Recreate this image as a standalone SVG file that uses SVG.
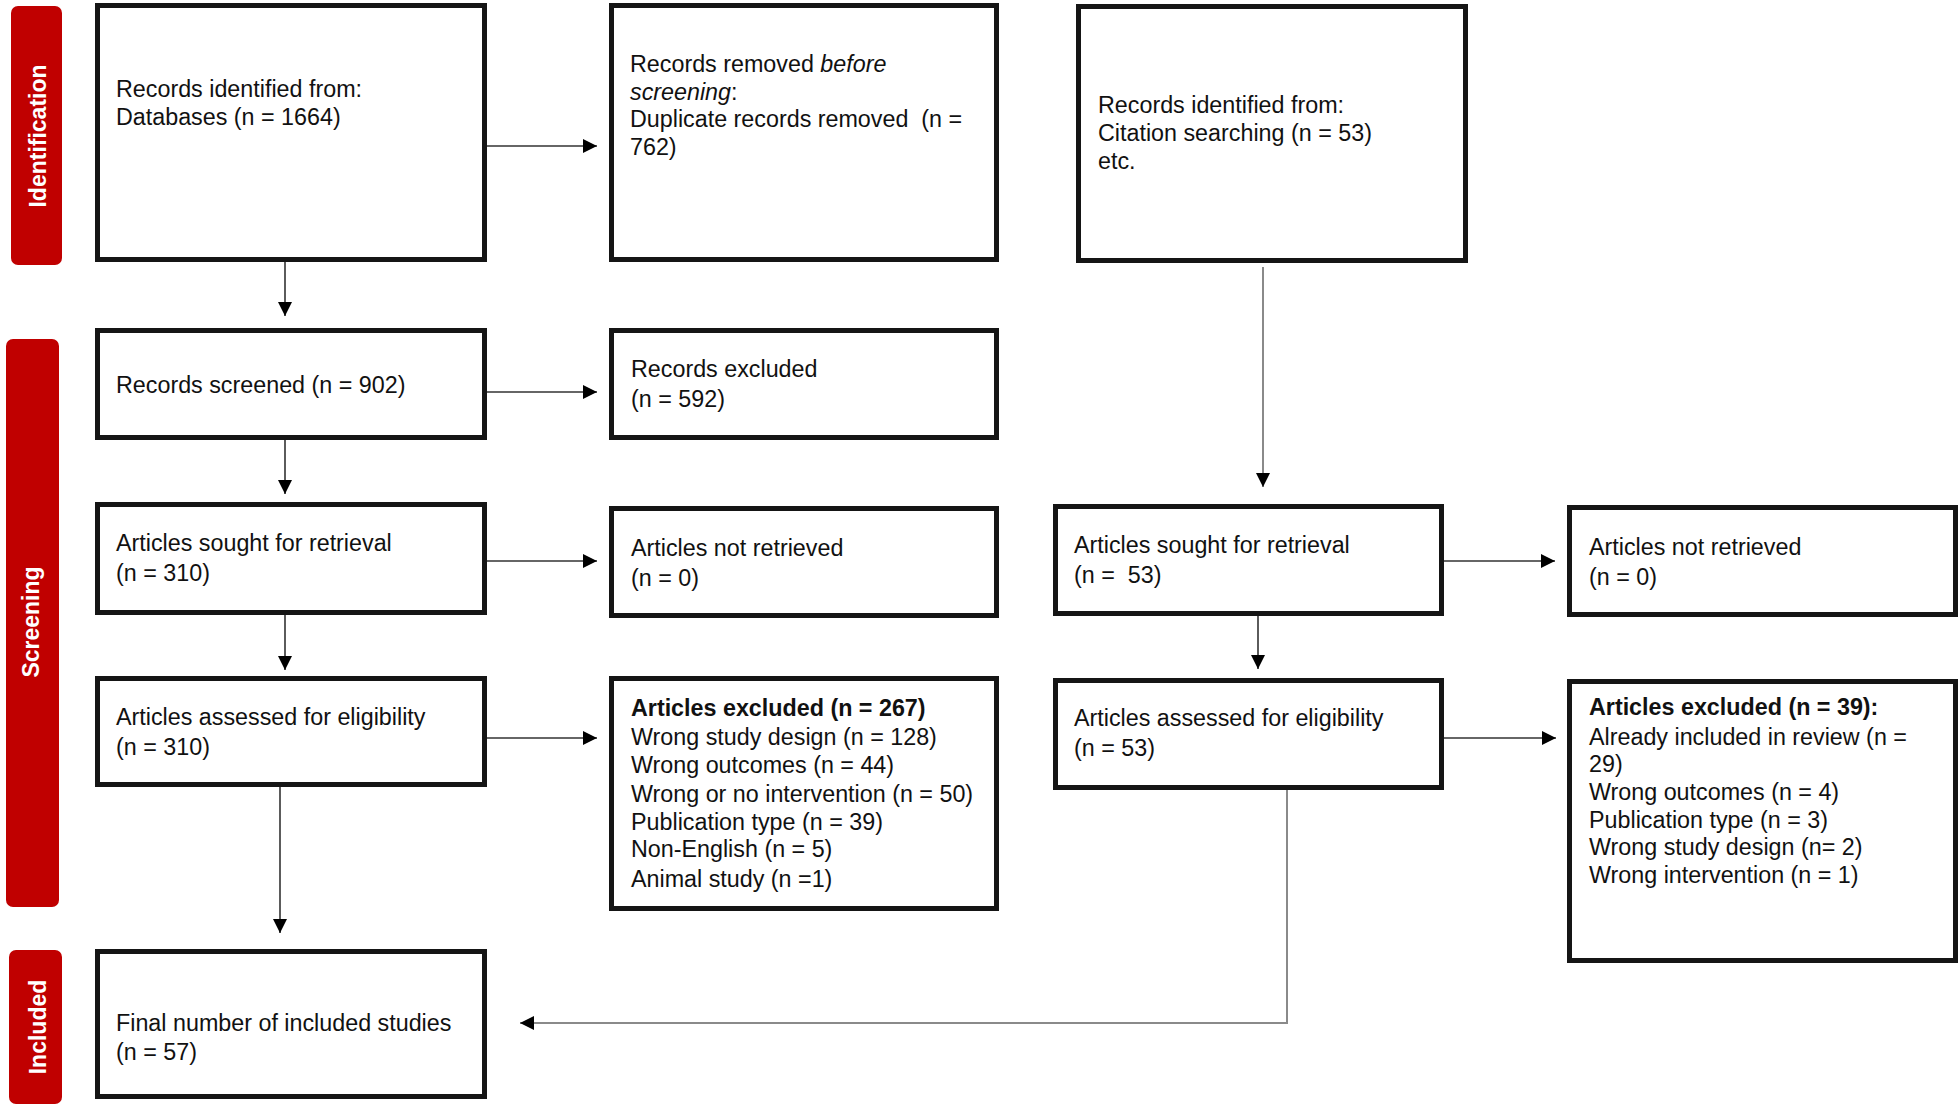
<svg xmlns="http://www.w3.org/2000/svg" width="1959" height="1110" viewBox="0 0 1959 1110">
<defs>
<marker id="ah" markerUnits="userSpaceOnUse" markerWidth="15" markerHeight="15" refX="14" refY="7" orient="auto">
<path d="M0,0 L14,7 L0,14 z" fill="#000"/>
</marker>
<style>
.box{fill:#fff;stroke:#151515;stroke-width:5}
.t{font-family:"Liberation Sans",Arial,sans-serif;font-size:23.3px;fill:#111}
.b{font-weight:bold}
.bar{fill:#c00000}
.bt{font-family:"Liberation Sans",Arial,sans-serif;font-size:23px;font-weight:bold;fill:#fff;text-anchor:middle}
.c{fill:none;stroke:#333;stroke-width:1.6}
.g{fill:none;stroke:#8a8a8a;stroke-width:2}
</style>
</defs>
<rect width="1959" height="1110" fill="#fff"/>

<g id="phase-identification">
<rect class="bar" x="11" y="6" width="51" height="259" rx="7"/>
<text class="bt" transform="translate(46,136) rotate(-90)">Identification</text>
</g>
<g id="phase-screening">
<rect class="bar" x="6" y="339" width="53" height="568" rx="7"/>
<text class="bt" transform="translate(39,622) rotate(-90)">Screening</text>
</g>
<g id="phase-included">
<rect class="bar" x="9" y="950" width="53" height="154" rx="7"/>
<text class="bt" transform="translate(46,1027) rotate(-90)">Included</text>
</g>

<g id="connectors">
<path class="c" d="M487,146 H597" marker-end="url(#ah)"/>
<path class="c" d="M285,262 V316" marker-end="url(#ah)"/>
<path class="c" d="M487,392 H597" marker-end="url(#ah)"/>
<path class="c" d="M285,440 V494" marker-end="url(#ah)"/>
<path class="c" d="M487,561 H597" marker-end="url(#ah)"/>
<path class="c" d="M285,615 V670" marker-end="url(#ah)"/>
<path class="c" d="M487,738 H597" marker-end="url(#ah)"/>
<path class="c" d="M280,783 V933" marker-end="url(#ah)"/>
<path class="g" d="M1263,267 V487" marker-end="url(#ah)"/>
<path class="c" d="M1444,561 H1555" marker-end="url(#ah)"/>
<path class="c" d="M1258,616 V669" marker-end="url(#ah)"/>
<path class="c" d="M1444,738 H1556" marker-end="url(#ah)"/>
<path class="g" d="M1287,790 V1023 H520" marker-end="url(#ah)"/>
</g>

<g id="n-db">
<rect class="box" x="97.5" y="5.5" width="387" height="254"/>
<text class="t" x="116" y="97">Records identified from:</text>
<text class="t" x="116" y="125">Databases (n = 1664)</text>
</g>
<g id="n-removed">
<rect class="box" x="611.5" y="5.5" width="385" height="254"/>
<text class="t" x="630" y="72">Records removed <tspan font-style="italic">before</tspan></text>
<text class="t" x="630" y="100"><tspan font-style="italic">screening</tspan>:</text>
<text class="t" x="630" y="127" xml:space="preserve">Duplicate records removed  (n =</text>
<text class="t" x="630" y="155">762)</text>
</g>
<g id="n-citation">
<rect class="box" x="1078.5" y="6.5" width="387" height="254"/>
<text class="t" x="1098" y="113">Records identified from:</text>
<text class="t" x="1098" y="141">Citation searching (n = 53)</text>
<text class="t" x="1098" y="169">etc.</text>
</g>
<g id="n-screened">
<rect class="box" x="97.5" y="330.5" width="387" height="107"/>
<text class="t" x="116" y="393">Records screened (n = 902)</text>
</g>
<g id="n-excluded">
<rect class="box" x="611.5" y="330.5" width="385" height="107"/>
<text class="t" x="631" y="377">Records excluded</text>
<text class="t" x="631" y="407">(n = 592)</text>
</g>
<g id="n-sought-db">
<rect class="box" x="97.5" y="504.5" width="387" height="108"/>
<text class="t" x="116" y="551">Articles sought for retrieval</text>
<text class="t" x="116" y="581">(n = 310)</text>
</g>
<g id="n-notretrieved-db">
<rect class="box" x="611.5" y="508.5" width="385" height="107"/>
<text class="t" x="631" y="556">Articles not retrieved</text>
<text class="t" x="631" y="586">(n = 0)</text>
</g>
<g id="n-sought-cit">
<rect class="box" x="1055.5" y="506.5" width="386" height="107"/>
<text class="t" x="1074" y="553">Articles sought for retrieval</text>
<text class="t" x="1074" y="583" xml:space="preserve">(n =  53)</text>
</g>
<g id="n-notretrieved-cit">
<rect class="box" x="1569.5" y="507.5" width="386" height="107"/>
<text class="t" x="1589" y="555">Articles not retrieved</text>
<text class="t" x="1589" y="585">(n = 0)</text>
</g>
<g id="n-assessed-db">
<rect class="box" x="97.5" y="678.5" width="387" height="106"/>
<text class="t" x="116" y="725">Articles assessed for eligibility</text>
<text class="t" x="116" y="755">(n = 310)</text>
</g>
<g id="n-artexcl-db">
<rect class="box" x="611.5" y="678.5" width="385" height="230"/>
<text class="t b" x="631" y="716">Articles excluded (n = 267)</text>
<text class="t" x="631" y="745">Wrong study design (n = 128)</text>
<text class="t" x="631" y="773">Wrong outcomes (n = 44)</text>
<text class="t" x="631" y="802">Wrong or no intervention (n = 50)</text>
<text class="t" x="631" y="830">Publication type (n = 39)</text>
<text class="t" x="631" y="857">Non-English (n = 5)</text>
<text class="t" x="631" y="887">Animal study (n =1)</text>
</g>
<g id="n-assessed-cit">
<rect class="box" x="1055.5" y="680.5" width="386" height="107"/>
<text class="t" x="1074" y="726">Articles assessed for eligibility</text>
<text class="t" x="1074" y="756">(n = 53)</text>
</g>
<g id="n-artexcl-cit">
<rect class="box" x="1569.5" y="681.5" width="386" height="279"/>
<text class="t b" x="1589" y="715">Articles excluded (n = 39):</text>
<text class="t" x="1589" y="745">Already included in review (n =</text>
<text class="t" x="1589" y="772">29)</text>
<text class="t" x="1589" y="800">Wrong outcomes (n = 4)</text>
<text class="t" x="1589" y="828">Publication type (n = 3)</text>
<text class="t" x="1589" y="855">Wrong study design (n= 2)</text>
<text class="t" x="1589" y="883">Wrong intervention (n = 1)</text>
</g>
<g id="n-final">
<rect class="box" x="97.5" y="951.5" width="387" height="145"/>
<text class="t" x="116" y="1031">Final number of included studies</text>
<text class="t" x="116" y="1060">(n = 57)</text>
</g>
</svg>
